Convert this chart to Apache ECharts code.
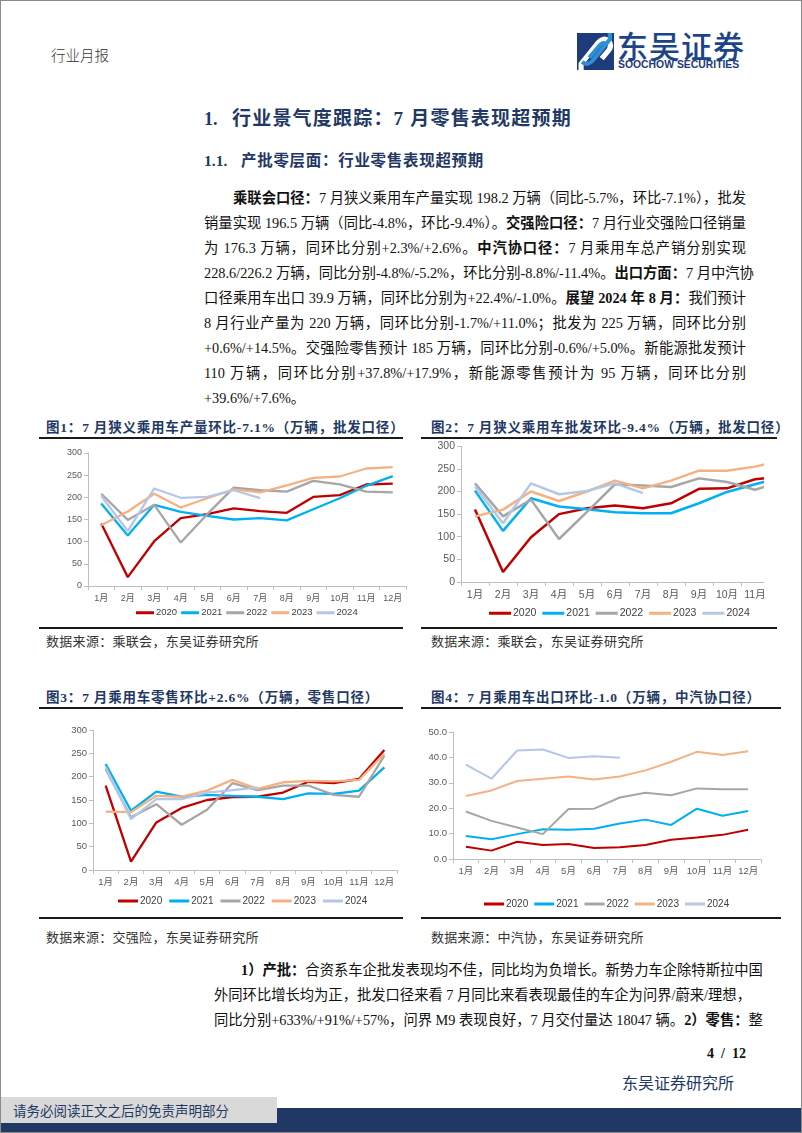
<!DOCTYPE html>
<html><head><meta charset="utf-8">
<script src="https://cdn.jsdelivr.net/npm/echarts@6/dist/echarts.min.js"></script>
<style>
html,body{margin:0;padding:0;background:#fff;}
#page{position:relative;width:800px;height:1131px;border:1px solid #8a8a8a;overflow:hidden;font-family:"Liberation Serif","Noto Sans CJK SC",serif;color:#111;}
.abs{position:absolute;white-space:nowrap;}
.navy{color:#1F3864;}
.para .ln{position:absolute;white-space:nowrap;font-size:14.3px;height:25px;line-height:25px;text-align:justify;text-align-last:justify;}
.para .ln.last{text-align-last:left;}
b{font-weight:700;}
.ctitle{position:absolute;font-size:13.5px;font-weight:700;color:#1F3864;white-space:nowrap;letter-spacing:0.8px;}
.hline{position:absolute;background:#1a1a1a;}
.src{position:absolute;font-size:13px;color:#333;white-space:nowrap;letter-spacing:0.3px;}
.chart{position:absolute;}
</style></head>
<body>
<div id="page">
  <div class="abs" style="left:50px;top:43px;font-size:14.5px;color:#333;font-family:'Noto Sans CJK SC';font-weight:300;">行业月报</div>
  <svg class="abs" style="left:576px;top:32px;" width="37" height="37" viewBox="0 0 36 36">
    <rect x="0" y="0" width="36" height="36" fill="#1E3C7B"/>
    <path d="M4,36 L4,30 L20,10 Q26,3 31,8 Q35,13 29,19 L24,25" stroke="#fff" stroke-width="5" fill="none"/>
    <path d="M12,24 L22,12 Q26,8 28,11" stroke="#2E8FD3" stroke-width="4" fill="none"/>
    <path d="M32,0 L32,6 L16,26 Q10,33 5,28" stroke="#2E8FD3" stroke-width="4" fill="none"/>
  </svg>
  <div class="abs" style="left:616px;top:26px;font-size:31px;line-height:36px;color:#1D4488;font-family:'Noto Sans CJK SC';font-weight:500;letter-spacing:1px;">东吴证券</div>
  <div class="abs" style="left:617px;top:58px;font-size:10.4px;line-height:12px;color:#1D3B78;font-family:'Liberation Sans';font-weight:700;">SOOCHOW SECURITIES</div>

  <div class="abs navy" style="left:203px;top:106px;font-size:18px;line-height:24px;font-weight:700;">1.</div>
  <div class="abs navy" style="left:231px;top:105px;font-size:19px;line-height:26px;font-weight:700;letter-spacing:1.2px;">行业景气度跟踪：7 月零售表现超预期</div>
  <div class="abs navy" style="left:203px;top:149px;font-size:15.5px;line-height:22px;font-weight:700;">1.1.</div>
  <div class="abs navy" style="left:240px;top:149px;font-size:15.5px;line-height:22px;font-weight:700;letter-spacing:0.7px;">产批零层面：行业零售表现超预期</div>

  <div class="para">
    <div class="ln" style="left:232px;width:513px;top:185px;"><b>乘联会口径：</b>7 月狭义乘用车产量实现 198.2 万辆（同比-5.7%，环比-7.1%），批发</div>
    <div class="ln" style="left:203px;width:542px;top:210px;">销量实现 196.5 万辆（同比-4.8%，环比-9.4%）。<b>交强险口径：</b>7 月行业交强险口径销量</div>
    <div class="ln" style="left:203px;width:542px;top:235px;">为 176.3 万辆，同环比分别+2.3%/+2.6%。<b>中汽协口径：</b>7 月乘用车总产销分别实现</div>
    <div class="ln" style="left:203px;width:542px;top:260px;">228.6/226.2 万辆，同比分别-4.8%/-5.2%，环比分别-8.8%/-11.4%。<b>出口方面：</b>7 月中汽协</div>
    <div class="ln" style="left:203px;width:542px;top:285px;">口径乘用车出口 39.9 万辆，同环比分别为+22.4%/-1.0%。<b>展望 2024 年 8 月：</b>我们预计</div>
    <div class="ln" style="left:203px;width:542px;top:310px;">8 月行业产量为 220 万辆，同环比分别-1.7%/+11.0%；批发为 225 万辆，同环比分别</div>
    <div class="ln" style="left:203px;width:542px;top:335px;">+0.6%/+14.5%。交强险零售预计 185 万辆，同环比分别-0.6%/+5.0%。新能源批发预计</div>
    <div class="ln" style="left:203px;width:542px;top:360px;">110 万辆，同环比分别+37.8%/+17.9%，新能源零售预计为 95 万辆，同环比分别</div>
    <div class="ln last" style="left:203px;width:542px;top:385px;">+39.6%/+7.6%。</div>
  </div>

  <div class="ctitle" style="left:45px;top:415px;">图1：7 月狭义乘用车产量环比-7.1%（万辆，批发口径）</div>
  <div class="hline" style="left:38px;top:436px;width:364px;height:2px;"></div>
  <div class="ctitle" style="left:430px;top:415px;">图2：7 月狭义乘用车批发环比-9.4%（万辆，批发口径）</div>
  <div class="hline" style="left:420px;top:436px;width:356px;height:2px;"></div>

  <div id="c1" class="chart" style="left:38px;top:440px;width:370px;height:180px;"></div>
  <div class="chart" style="left:420px;top:440px;width:343px;height:180px;overflow:hidden;">
    <div id="c2" style="position:absolute;left:0;top:0;width:380px;height:180px;"></div>
  </div>

  <div class="hline" style="left:38px;top:626px;width:364px;height:1.5px;"></div>
  <div class="hline" style="left:420px;top:626px;width:356px;height:1.5px;"></div>
  <div class="src" style="left:45px;top:630px;">数据来源：乘联会，东吴证券研究所</div>
  <div class="src" style="left:430px;top:630px;">数据来源：乘联会，东吴证券研究所</div>

  <div class="ctitle" style="left:45px;top:685px;">图3：7 月乘用车零售环比+2.6%（万辆，零售口径）</div>
  <div class="hline" style="left:38px;top:706px;width:364px;height:2px;"></div>
  <div class="ctitle" style="left:430px;top:685px;">图4：7 月乘用车出口环比-1.0（万辆，中汽协口径）</div>
  <div class="hline" style="left:420px;top:706px;width:360px;height:2px;"></div>

  <div id="c3" class="chart" style="left:38px;top:710px;width:370px;height:200px;"></div>
  <div id="c4" class="chart" style="left:420px;top:710px;width:360px;height:200px;"></div>

  <div class="hline" style="left:38px;top:916px;width:364px;height:1.5px;"></div>
  <div class="hline" style="left:420px;top:916px;width:360px;height:1.5px;"></div>
  <div class="src" style="left:45px;top:926px;">数据来源：交强险，东吴证券研究所</div>
  <div class="src" style="left:430px;top:926px;">数据来源：中汽协，东吴证券研究所</div>

  <div class="para">
    <div class="ln" style="left:240px;width:505px;top:957px;"><b>1）产批：</b>合资系车企批发表现均不佳，同比均为负增长。新势力车企除特斯拉中国</div>
    <div class="ln" style="left:213px;width:532px;top:982px;">外同环比增长均为正，批发口径来看 7 月同比来看表现最佳的车企为问界/蔚来/理想，</div>
    <div class="ln" style="left:213px;width:532px;top:1007px;">同比分别+633%/+91%/+57%，问界 M9 表现良好，7 月交付量达 18047 辆。<b>2）零售：</b>整</div>
  </div>

  <div class="abs" style="right:55px;top:1045px;font-size:14px;font-weight:700;font-family:'Liberation Serif';">4&nbsp;&nbsp;/&nbsp;&nbsp;12</div>
  <div class="abs navy" style="left:621px;top:1071px;font-size:16px;line-height:20px;font-family:'Noto Sans CJK SC';">东吴证券研究所</div>
  <div class="abs" style="left:0;top:1107px;width:802px;height:26px;background:#1F3864;"></div>
  <div class="abs" style="left:0;top:1096px;width:276px;height:26px;background:#D9D9D9;"></div>
  <div class="abs navy" style="left:12px;top:1100px;font-size:13.5px;line-height:18px;font-family:'Noto Sans CJK SC';">请务必阅读正文之后的免责声明部分</div>
</div>

<script>
// ---- data ----
const months = ['1月','2月','3月','4月','5月','6月','7月','8月','9月','10月','11月','12月'];
const years = ['2020','2021','2022','2023','2024'];

// 图1 产量 (万辆)
const prod2020 = [141,20,101,153,162,175,169,165,201,205,229,231];
const prod2021 = [186,114,183,167,158,150,153,148,173,198,226,248];
const prod2022 = [208,149,183,98,162,222,216,213,237,229,213,211];
const prod2023 = [137,168,208,177,198,218,211,227,244,247,265,268];
const prod2024 = [203,124,220,199,201,216,198.2];

// 图2 批发 (万辆)
const whole2020 = [160,22,99,150,163,169,163,174,206,207,227,233];
const whole2021 = [202,113,185,167,161,154,152,152,174,199,216,232];
const whole2022 = [218,145,182,95,155,216,213,210,229,221,204,223];
const whole2023 = [145,160,200,179,200,224,207,224,246,246,255,269];
const whole2024 = [211,130,218,194,201,218,196.5];

// 图3 零售 (万辆)
const retail2020 = [181,18,102,133,150,156,157,166,189,186,195,257];
const retail2021 = [227,127,168,157,161,159,157,152,164,163,170,220];
const retail2022 = [216,113,141,97,129,186,171,181,181,161,157,245];
const retail2023 = [125,124,159,157,170,193,174,188,191,190,193,249];
const retail2024 = [220,109,152,152,166,171,176.3];

// 图4 出口 (万辆)
const export2020 = [4.8,3.3,6.8,5.5,5.9,4.3,4.6,5.5,7.6,8.5,9.5,11.5];
const export2021 = [9.1,7.8,9.8,11.7,11.5,11.9,14.0,15.5,13.4,19.8,17.0,18.9];
const export2022 = [18.7,15.0,12.4,9.8,19.7,19.8,24.2,26.1,25.1,27.8,27.5,27.5];
const export2023 = [24.8,27.0,30.7,31.6,32.5,31.3,32.5,34.9,38.3,42.2,40.9,42.4];
const export2024 = [37.2,31.6,42.7,43.1,39.8,40.5,39.9];

// ---- style ----
const lineColors = ['#C00000','#00B0F0','#A6A6A6','#F4B183','#B4C7E7'];
const FONT = "'Liberation Sans','Noto Sans CJK SC',sans-serif";

function build(el, cfg){
  const chart = echarts.init(document.getElementById(el), null, {renderer:'canvas'});
  const sets = cfg.data;
  chart.setOption({
    animation:false,
    grid:cfg.grid,
    legend:{
      data:years, left:cfg.legend.left, top:cfg.legend.top, icon:'rect',
      itemWidth:cfg.legend.iw, itemHeight:3, itemGap:cfg.legend.gap,
      textStyle:{fontFamily:FONT,fontSize:cfg.legend.fs,color:'#404040',padding:[0,0,0,-3]}
    },
    xAxis:{
      type:'category', data:months, boundaryGap:true,
      axisLine:{lineStyle:{color:'#BFBFBF',width:1}},
      axisTick:{show:true,length:4,lineStyle:{color:'#BFBFBF'}},
      axisLabel:{fontFamily:FONT,fontSize:cfg.fs,color:'#595959',margin:cfg.xmargin,interval:0}
    },
    yAxis:{
      type:'value', min:0, max:cfg.max, interval:cfg.interval,
      axisLine:{show:true,lineStyle:{color:'#BFBFBF',width:1}},
      axisTick:{show:true,length:4,lineStyle:{color:'#BFBFBF'}},
      splitLine:{show:false},
      axisLabel:{fontFamily:FONT,fontSize:cfg.fs,color:'#595959',margin:6,
        formatter:cfg.fmt||(v=>v)}
    },
    series: years.map((y,i)=>({
      name:y, type:'line', data:sets[i], symbol:'none', smooth:false,
      lineStyle:{color:lineColors[i],width:cfg.lw}, itemStyle:{color:lineColors[i]}
    }))
  });
}

build('c1',{data:[prod2020,prod2021,prod2022,prod2023,prod2024],
  grid:{left:49,right:3,top:12,bottom:35}, max:300, interval:50, fs:9, xmargin:8, lw:2.3,
  legend:{left:92,top:162,iw:18,gap:4,fs:9.5}});
build('c2',{data:[whole2020,whole2021,whole2022,whole2023,whole2024],
  grid:{left:40,right:4,top:5,bottom:39}, max:300, interval:50, fs:10.5, xmargin:8, lw:2.5,
  legend:{left:63,top:162,iw:22,gap:6,fs:10.5}});
build('c3',{data:[retail2020,retail2021,retail2022,retail2023,retail2024],
  grid:{left:54,right:12,top:19,bottom:41}, max:300, interval:50, fs:9.5, xmargin:8, lw:2.3,
  legend:{left:74,top:180,iw:20,gap:7,fs:10}});
build('c4',{data:[export2020,export2021,export2022,export2023,export2024],
  grid:{left:32,right:20,top:21,bottom:52}, max:50, interval:10, fs:9.5, xmargin:8, lw:2,
  legend:{left:58,top:183,iw:20,gap:6,fs:10}, fmt:(v=>v.toFixed(1))});
</script>
</body></html>
